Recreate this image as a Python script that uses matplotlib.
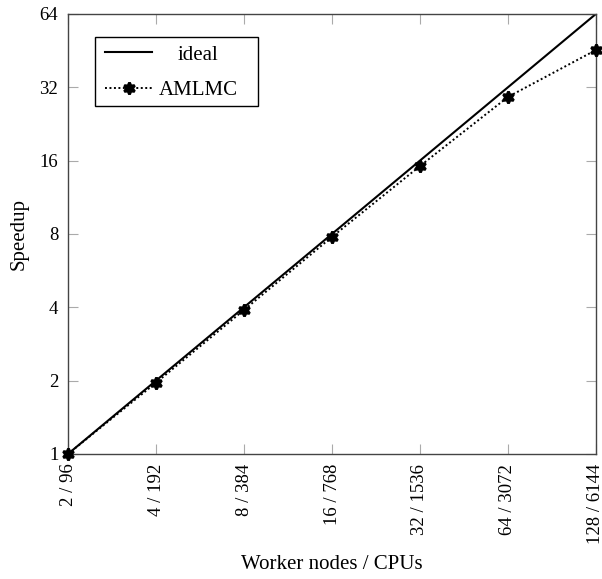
import matplotlib
matplotlib.use("Agg")
import matplotlib.pyplot as plt
from matplotlib.patches import Rectangle
import numpy as np

categories = ["2 / 96", "4 / 192", "8 / 384", "16 / 768", "32 / 1536", "64 / 3072", "128 / 6144"]
ideal = [1, 2, 4, 8, 16, 32, 64]
amlmc = [1, 1.96, 3.9, 7.78, 15.2, 29.2, 45.5]
yticks = [1, 2, 4, 8, 16, 32, 64]

plt.rcParams['font.family'] = ['Liberation Serif', 'DejaVu Serif']
fig = plt.figure(figsize=(6.02, 5.79), dpi=100)
ax = fig.add_axes([0.113, 0.216, 0.877, 0.760])
x = np.arange(len(categories))
ax.plot(x, ideal, color='black', lw=1.5, label='ideal', zorder=2)
ax.plot(x, amlmc, color='black', lw=1.4, ls=(0, (1, 1.3)), marker=(6, 1, 0), ms=8.5,
        mfc='black', mec='black', mew=2.0, label='AMLMC', zorder=3, clip_on=False)
ax.set_yscale('log', base=2)
ax.set_ylim(1, 64)
ax.set_xlim(0, 6)
ax.set_yticks(yticks)
ax.set_yticklabels([str(v) for v in yticks])
ax.minorticks_off()
ax.set_xticks(x)
ax.set_xticklabels(categories, rotation=90, fontsize=13.5)
ax.tick_params(axis='y', labelsize=13.5)
ax.tick_params(direction='in', length=7, color='#aaaaaa', top=True, right=True, pad=7)
for s in ax.spines.values():
    s.set_color('#444444')
    s.set_linewidth(1.0)
ax.set_ylabel('Speedup', fontsize=15)
ax.set_xlabel('Worker nodes / CPUs', fontsize=15)
ax.yaxis.label.set_va('center')
ax.yaxis.set_label_coords(-0.093, 0.5)
ax.xaxis.label.set_va('center')
ax.xaxis.set_label_coords(0.5, -0.252)

# legend frame box (drawn separately to match padding)
ax.add_patch(Rectangle((0.0511, 0.7909), 0.3087, 0.1568, transform=ax.transAxes,
                       facecolor='white', edgecolor='black', lw=1.0, zorder=4.9, clip_on=False))
leg = ax.legend(loc='upper left', bbox_to_anchor=(0.0587, 0.9432), fontsize=15, frameon=False,
                handlelength=2.25, borderpad=0.3, labelspacing=0.75, handletextpad=0.3,
                borderaxespad=0)
fig.canvas.draw()
r = fig.canvas.get_renderer()
texts = leg.get_texts()
w = [t.get_window_extent(r).width for t in texts]
texts[0].set_x((max(w) - w[0]) / 2)
fig.savefig('out.png', dpi=100)
